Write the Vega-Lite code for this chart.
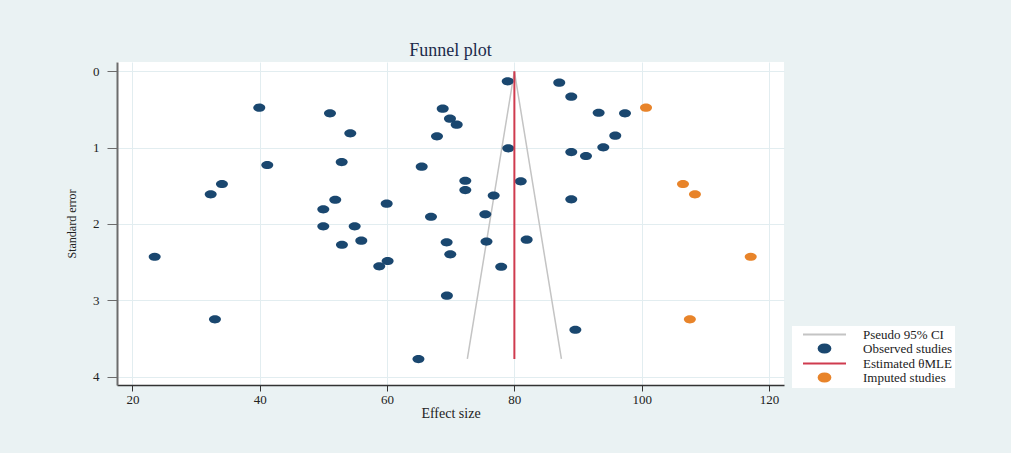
{
  "$schema": "https://vega.github.io/schema/vega-lite/v6.json",
  "width": 667,
  "height": 323,
  "autosize": {"type": "none"},
  "padding": {"left": 117, "top": 62, "right": 227, "bottom": 68},
  "background": "#eaf2f3",
  "config": {
    "font": "Liberation Serif",
    "view": {"fill": "white", "stroke": null},
    "axis": {
      "grid": true,
      "gridColor": "#e2edf0",
      "gridWidth": 1,
      "labelFont": "Liberation Serif",
      "titleFont": "Liberation Serif",
      "labelColor": "#222222",
      "titleColor": "#222222",
      "titleFontWeight": "normal",
      "labelFontSize": 13,
      "titleFontSize": 14
    },
    "legend": {
      "orient": "none",
      "legendX": 675,
      "legendY": 264,
      "title": null,
      "fillColor": "white",
      "padding": 2,
      "symbolOffset": 24,
      "labelOffset": 32,
      "symbolSize": 100,
      "rowPadding": -2,
      "labelFont": "Liberation Serif",
      "labelFontSize": 13,
      "labelColor": "#222222",
      "labelLimit": 300
    }
  },
  "title": {
    "text": "Funnel plot",
    "font": "Liberation Serif",
    "fontSize": 18,
    "fontWeight": "normal",
    "color": "#1c2b4b",
    "offset": 2
  },
  "datasets": {
    "studies": [
      {"es": 78.95, "se": 0.131, "series": "Observed studies"},
      {"es": 87.05, "se": 0.149, "series": "Observed studies"},
      {"es": 88.94, "se": 0.333, "series": "Observed studies"},
      {"es": 39.92, "se": 0.477, "series": "Observed studies"},
      {"es": 51.03, "se": 0.550, "series": "Observed studies"},
      {"es": 68.74, "se": 0.490, "series": "Observed studies"},
      {"es": 69.88, "se": 0.621, "series": "Observed studies"},
      {"es": 70.94, "se": 0.700, "series": "Observed studies"},
      {"es": 54.22, "se": 0.813, "series": "Observed studies"},
      {"es": 67.84, "se": 0.852, "series": "Observed studies"},
      {"es": 93.24, "se": 0.543, "series": "Observed studies"},
      {"es": 97.38, "se": 0.550, "series": "Observed studies"},
      {"es": 95.85, "se": 0.844, "series": "Observed studies"},
      {"es": 79.04, "se": 1.009, "series": "Observed studies"},
      {"es": 88.94, "se": 1.058, "series": "Observed studies"},
      {"es": 91.25, "se": 1.110, "series": "Observed studies"},
      {"es": 93.97, "se": 0.996, "series": "Observed studies"},
      {"es": 41.18, "se": 1.228, "series": "Observed studies"},
      {"es": 52.87, "se": 1.189, "series": "Observed studies"},
      {"es": 65.44, "se": 1.250, "series": "Observed studies"},
      {"es": 72.29, "se": 1.434, "series": "Observed studies"},
      {"es": 81.0, "se": 1.442, "series": "Observed studies"},
      {"es": 34.06, "se": 1.477, "series": "Observed studies"},
      {"es": 32.29, "se": 1.612, "series": "Observed studies"},
      {"es": 72.29, "se": 1.556, "series": "Observed studies"},
      {"es": 76.75, "se": 1.628, "series": "Observed studies"},
      {"es": 51.86, "se": 1.683, "series": "Observed studies"},
      {"es": 88.94, "se": 1.678, "series": "Observed studies"},
      {"es": 49.98, "se": 1.809, "series": "Observed studies"},
      {"es": 59.94, "se": 1.735, "series": "Observed studies"},
      {"es": 66.90, "se": 1.906, "series": "Observed studies"},
      {"es": 75.43, "se": 1.874, "series": "Observed studies"},
      {"es": 49.98, "se": 2.031, "series": "Observed studies"},
      {"es": 54.91, "se": 2.031, "series": "Observed studies"},
      {"es": 52.91, "se": 2.273, "series": "Observed studies"},
      {"es": 55.95, "se": 2.220, "series": "Observed studies"},
      {"es": 69.36, "se": 2.241, "series": "Observed studies"},
      {"es": 75.62, "se": 2.231, "series": "Observed studies"},
      {"es": 81.93, "se": 2.207, "series": "Observed studies"},
      {"es": 23.49, "se": 2.430, "series": "Observed studies"},
      {"es": 69.93, "se": 2.398, "series": "Observed studies"},
      {"es": 60.09, "se": 2.486, "series": "Observed studies"},
      {"es": 58.77, "se": 2.556, "series": "Observed studies"},
      {"es": 77.93, "se": 2.561, "series": "Observed studies"},
      {"es": 69.40, "se": 2.941, "series": "Observed studies"},
      {"es": 32.96, "se": 3.250, "series": "Observed studies"},
      {"es": 89.58, "se": 3.387, "series": "Observed studies"},
      {"es": 64.93, "se": 3.771, "series": "Observed studies"},
      {"es": 100.68, "se": 0.477, "series": "Imputed studies"},
      {"es": 106.49, "se": 1.477, "series": "Imputed studies"},
      {"es": 108.37, "se": 1.612, "series": "Imputed studies"},
      {"es": 117.13, "se": 2.430, "series": "Imputed studies"},
      {"es": 107.57, "se": 3.250, "series": "Imputed studies"}
    ],
    "funnel": [
      {"es": 72.61, "se": 3.77, "k": 1, "series": "Pseudo 95% CI"},
      {"es": 80.0, "se": 0.0, "k": 2, "series": "Pseudo 95% CI"},
      {"es": 87.39, "se": 3.77, "k": 3, "series": "Pseudo 95% CI"}
    ],
    "theta": [
      {"es": 80.0, "se": 0.0, "se2": 3.77, "series": "Estimated θMLE"}
    ]
  },
  "encoding": {
    "x": {
      "field": "es",
      "type": "quantitative",
      "scale": {"domain": [17.57, 122.36], "nice": false, "zero": false},
      "axis": {
        "title": "Effect size",
        "values": [20, 40, 60, 80, 100, 120],
        "domainColor": "#333333",
        "domainWidth": 1.5,
        "tickColor": "#333333",
        "tickSize": 6,
        "tickWidth": 1,
        "labelPadding": 2,
        "titlePadding": 0
      }
    },
    "y": {
      "field": "se",
      "type": "quantitative",
      "scale": {"domain": [-0.122, 4.111], "nice": false, "zero": false, "reverse": true},
      "axis": {
        "title": "Standard error",
        "titleFontSize": 12,
        "values": [0, 1, 2, 3, 4],
        "domainColor": "#6c6c6c",
        "domainWidth": 2,
        "tickColor": "#6c6c6c",
        "tickSize": 10,
        "tickWidth": 1,
        "labelPadding": 8,
        "titlePadding": 14
      }
    },
    "color": {
      "field": "series",
      "type": "nominal",
      "scale": {
        "domain": ["Pseudo 95% CI", "Observed studies", "Estimated θMLE", "Imputed studies"],
        "range": ["#c4c4c4", "#1a476f", "#cf3b4f", "#e8842a"]
      },
      "legend": {
        "encoding": {
          "symbols": {
            "shape": {"value": {"signal": "(datum.value == 'Observed studies' || datum.value == 'Imputed studies') ? 'M-1.2,0A1.2,0.82,0,1,1,1.2,0A1.2,0.82,0,1,1,-1.2,0Z' : 'M-4.3,0L4.3,0'"}},
            "fill": {"value": {"signal": "(datum.value == 'Observed studies' || datum.value == 'Imputed studies') ? scale('color', datum.value) : 'transparent'"}},
            "stroke": {"value": {"signal": "(datum.value == 'Observed studies' || datum.value == 'Imputed studies') ? 'transparent' : scale('color', datum.value)"}},
            "strokeWidth": {"value": 1.8},
            "opacity": {"value": 1}
          }
        }
      }
    }
  },
  "layer": [
    {
      "data": {"name": "funnel"},
      "mark": {"type": "line", "strokeWidth": 1.5},
      "encoding": {
        "order": {"field": "k", "type": "quantitative"}
      }
    },
    {
      "data": {"name": "studies"},
      "mark": {
        "type": "point",
        "filled": true,
        "opacity": 1,
        "size": 100,
        "shape": "M-1.2,0A1.2,0.82,0,1,1,1.2,0A1.2,0.82,0,1,1,-1.2,0Z"
      }
    },
    {
      "data": {"name": "theta"},
      "mark": {"type": "rule", "strokeWidth": 2},
      "encoding": {
        "y2": {"field": "se2"}
      }
    }
  ]
}
